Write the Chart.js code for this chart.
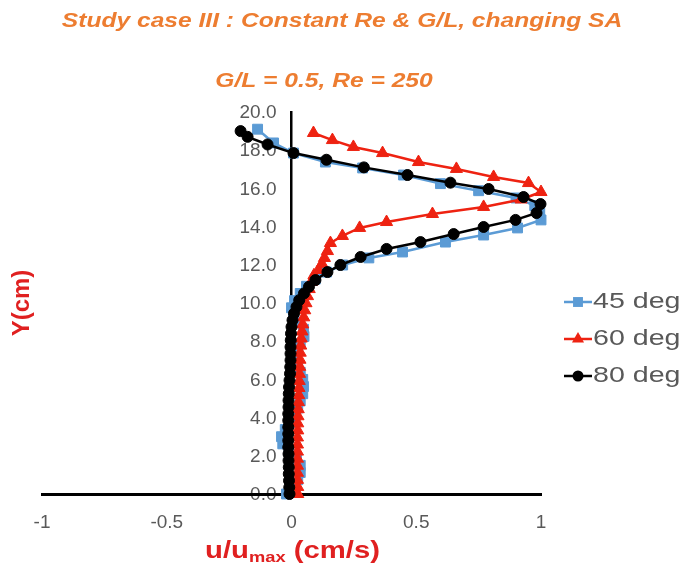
<!DOCTYPE html>
<html>
<head>
<meta charset="utf-8">
<script src="https://cdn.jsdelivr.net/npm/chart.js@4.4.1/dist/chart.umd.min.js"></script>
<style>
  html, body { margin: 0; padding: 0; background: #ffffff; }
  #wrap { width: 684px; height: 573px; }
</style>
</head>
<body>
<div id="wrap"><canvas id="chart" width="684" height="573"></canvas></div>
<script>
// Velocity profiles: normalised velocity u/umax against height Y (cm)
const seriesLabels = ['45 deg', '60 deg', '80 deg'];

// 45 deg
const y45 = [0, 0.375, 0.75, 1.125, 1.5, 1.875, 2.25, 2.625, 3.0, 3.375, 3.75, 4.125, 4.5, 4.875,
  5.25, 5.625, 6.0, 6.375, 6.75, 7.125, 7.5, 7.875, 8.25, 8.625, 9.0, 9.375, 9.75, 10.125, 10.5,
  10.875, 11.25, 11.62, 11.99, 12.36, 12.67, 13.19, 13.56, 13.93, 14.35, 14.72, 15.10, 15.50,
  15.88, 16.25, 16.70, 17.07, 17.38, 17.85, 18.38, 19.10];
const u45 = [-0.02, 0.0, 0.025, 0.035, 0.035, 0.02, -0.01, -0.035, -0.04, -0.025, 0.0, 0.015, 0.025,
  0.035, 0.045, 0.048, 0.045, 0.035, 0.025, 0.02, 0.025, 0.035, 0.05, 0.048, 0.03, 0.008, 0.0,
  0.012, 0.035, 0.06, 0.095, 0.14, 0.205, 0.31, 0.445, 0.617, 0.77, 0.906, 1.0, 0.995, 0.975,
  0.90, 0.75, 0.597, 0.449, 0.285, 0.136, 0.008, -0.072, -0.136];

// 60 deg
const y60 = [0, 0.37, 0.74, 1.11, 1.48, 1.85, 2.22, 2.59, 2.96, 3.33, 3.70, 4.07, 4.44, 4.81, 5.18,
  5.55, 5.92, 6.29, 6.66, 7.03, 7.40, 7.77, 8.14, 8.51, 8.88, 9.25, 9.62, 9.99, 10.36, 10.73, 11.10,
  11.45, 11.73, 12.05, 12.36, 12.72, 13.14, 13.51, 13.93, 14.24, 14.66, 15.03, 15.42, 15.81, 16.28,
  16.60, 17.02, 17.38, 17.85, 18.17, 18.53, 18.90];
const u60 = [0.025, 0.025, 0.024, 0.024, 0.024, 0.024, 0.024, 0.024, 0.024, 0.025, 0.025, 0.026,
  0.027, 0.028, 0.029, 0.030, 0.031, 0.032, 0.033, 0.034, 0.035, 0.037, 0.039, 0.042, 0.045, 0.049,
  0.053, 0.058, 0.064, 0.071, 0.079, 0.090, 0.108, 0.122, 0.132, 0.144, 0.156, 0.204, 0.273, 0.381,
  0.565, 0.770, 0.920, 1.000, 0.950, 0.810, 0.661, 0.509, 0.365, 0.248, 0.164, 0.088];

// 80 deg
const y80 = [0, 0.35, 0.70, 1.05, 1.40, 1.75, 2.10, 2.45, 2.80, 3.15, 3.50, 3.85, 4.20, 4.55, 4.90,
  5.25, 5.60, 5.95, 6.30, 6.65, 7.00, 7.35, 7.70, 8.05, 8.40, 8.75, 9.10, 9.45, 9.80, 10.15, 10.50,
  10.85, 11.20, 11.62, 11.99, 12.41, 12.83, 13.19, 13.61, 13.98, 14.35, 14.71, 15.18, 15.55, 15.97,
  16.30, 16.70, 17.10, 17.50, 17.85, 18.30, 18.70, 19.00];
const u80 = [-0.008, -0.009, -0.010, -0.011, -0.011, -0.012, -0.012, -0.013, -0.013, -0.013, -0.013,
  -0.013, -0.013, -0.012, -0.012, -0.011, -0.010, -0.008, -0.006, -0.005, -0.004, -0.004, -0.004,
  -0.003, -0.002, 0.000, 0.004, 0.010, 0.020, 0.031, 0.050, 0.070, 0.096, 0.144, 0.196, 0.277,
  0.381, 0.517, 0.650, 0.770, 0.898, 0.982, 0.998, 0.930, 0.790, 0.637, 0.465, 0.290, 0.140,
  0.008, -0.096, -0.176, -0.204];

const xTicks = [-1, -0.5, 0, 0.5, 1];
const yTicks = [0, 2, 4, 6, 8, 10, 12, 14, 16, 18, 20];

const titleText = 'Study case III : Constant Re & G/L, changing SA';
const subtitleText = 'G/L = 0.5, Re = 250';
const yTitle = 'Y(cm)';
const xTitleParts = ['u/u', 'max', ' (cm/s)'];

const FONT = "'Liberation Sans', Arial, Helvetica, sans-serif";
const TICK_GREY = '#595959';
const colors = ['#5B9BD5', '#EE2211', '#000000'];
const pointStyles = ['rect', 'triangle', 'circle'];
const pointSizes = [7, 7, 5.5];

const pts = (ys, us) => ys.map((y, i) => ({ x: us[i], y: y }));
const profiles = [pts(y45, u45), pts(y60, u60), pts(y80, u80)];

const datasets = profiles.map((data, i) => ({
  label: seriesLabels[i],
  data: data,
  showLine: true,
  borderColor: colors[i],
  backgroundColor: colors[i],
  borderWidth: 2.5,
  pointStyle: pointStyles[i],
  pointRadius: pointSizes[i],
  pointBackgroundColor: colors[i],
  pointBorderColor: colors[i],
  pointBorderWidth: 1,
  tension: 0,
  clip: false,
  order: 3 - i
}));

// horizontally scaled text helper
function wideText(ctx, str, x, y, font, color, align, sx) {
  ctx.save();
  ctx.font = font;
  ctx.fillStyle = color;
  ctx.textBaseline = 'middle';
  ctx.textAlign = 'left';
  const w = ctx.measureText(str).width * sx;
  const x0 = align === 'center' ? x - w / 2 : (align === 'right' ? x - w : x);
  ctx.translate(x0, y);
  ctx.scale(sx, 1);
  ctx.fillText(str, 0, 0);
  ctx.restore();
  return w;
}

function drawMarker(ctx, style, x, y, r, color) {
  ctx.save();
  ctx.fillStyle = color;
  ctx.beginPath();
  if (style === 'rect') {
    const s = r * Math.SQRT1_2;
    ctx.rect(x - s, y - s, 2 * s, 2 * s);
  } else if (style === 'triangle') {
    ctx.moveTo(x, y - r);
    ctx.lineTo(x + r * Math.sqrt(3) / 2, y + r / 2);
    ctx.lineTo(x - r * Math.sqrt(3) / 2, y + r / 2);
    ctx.closePath();
  } else {
    ctx.arc(x, y, r, 0, Math.PI * 2);
  }
  ctx.fill();
  ctx.restore();
}

// Y tick labels sit a little to the left of the vertical axis at u = 0
const yAxisLabels = {
  id: 'yAxisLabels',
  beforeDraw(chart) {
    const ctx = chart.ctx;
    const ys = chart.scales.y;
    const xs = chart.scales.x;
    const xRight = xs.getPixelForValue(0) - 15;
    ctx.save();
    ctx.font = `19px ${FONT}`;
    ctx.fillStyle = TICK_GREY;
    ctx.textAlign = 'right';
    ctx.textBaseline = 'middle';
    ys.ticks.forEach(t => {
      ctx.fillText(Number(t.value).toFixed(1), xRight, ys.getPixelForValue(t.value) + 1);
    });
    ctx.restore();
  }
};

const annotations = {
  id: 'annotations',
  afterDraw(chart) {
    const ctx = chart.ctx;
    const area = chart.chartArea;
    const orange = '#ED7D31';
    const red = '#E02020';

    wideText(ctx, titleText, 342, 21, `italic bold 20.5px ${FONT}`, orange, 'center', 1.2);
    wideText(ctx, subtitleText, 324, 81, `italic bold 20.5px ${FONT}`, orange, 'center', 1.2);

    // y axis title
    ctx.save();
    ctx.translate(22, (area.top + area.bottom) / 2);
    ctx.rotate(-Math.PI / 2);
    ctx.font = `bold 24px ${FONT}`;
    ctx.fillStyle = red;
    ctx.textAlign = 'center';
    ctx.textBaseline = 'middle';
    ctx.fillText(yTitle, 0, 0);
    ctx.restore();

    // x axis title with subscript
    const sx = 1.22;
    const mainFont = `bold 24px ${FONT}`;
    const subFont = `bold 15px ${FONT}`;
    ctx.save();
    ctx.font = mainFont;
    const w1 = ctx.measureText(xTitleParts[0]).width * sx;
    const w3 = ctx.measureText(xTitleParts[2]).width * sx;
    ctx.font = subFont;
    const w2 = ctx.measureText(xTitleParts[1]).width * sx;
    ctx.restore();
    const cx = (area.left + area.right) / 2 + 1;
    let x = cx - (w1 + w2 + w3) / 2;
    const ty = 551;
    x += wideText(ctx, xTitleParts[0], x, ty, mainFont, red, 'left', sx);
    x += wideText(ctx, xTitleParts[1], x, ty + 7, subFont, red, 'left', sx);
    wideText(ctx, xTitleParts[2], x, ty, mainFont, red, 'left', sx);

    // legend
    const rows = [302, 339, 376];
    chart.data.datasets.forEach((ds, i) => {
      const ry = rows[i];
      ctx.save();
      ctx.strokeStyle = ds.borderColor;
      ctx.lineWidth = 2.5;
      ctx.beginPath();
      ctx.moveTo(564, ry);
      ctx.lineTo(592, ry);
      ctx.stroke();
      ctx.restore();
      drawMarker(ctx, ds.pointStyle, 578, ry, ds.pointRadius, ds.pointBackgroundColor);
      wideText(ctx, ds.label, 593, ry, `22px ${FONT}`, TICK_GREY, 'left', 1.3);
    });
  }
};

new Chart(document.getElementById('chart'), {
  type: 'scatter',
  data: { datasets: datasets },
  options: {
    responsive: false,
    animation: false,
    devicePixelRatio: 1,
    layout: { padding: { left: 42, right: 143, top: 112, bottom: 79 } },
    plugins: {
      legend: { display: false },
      tooltip: { enabled: false },
      title: { display: false }
    },
    scales: {
      x: {
        type: 'linear',
        min: -1, max: 1,
        position: { y: 0 },
        afterBuildTicks: axis => { axis.ticks = xTicks.map(v => ({ value: v })); },
        grid: { display: false, drawTicks: false },
        border: { display: true, color: '#000000', width: 3 },
        ticks: {
          color: TICK_GREY,
          padding: 17,
          font: { family: FONT, size: 19 },
          callback: v => String(v)
        }
      },
      y: {
        type: 'linear',
        min: 0, max: 20,
        position: { x: 0 },
        afterBuildTicks: axis => { axis.ticks = yTicks.map(v => ({ value: v })); },
        grid: { display: false, drawTicks: false },
        border: { display: true, color: '#000000', width: 2.5 },
        ticks: { display: false }
      }
    }
  },
  plugins: [yAxisLabels, annotations]
});
</script>
</body>
</html>
